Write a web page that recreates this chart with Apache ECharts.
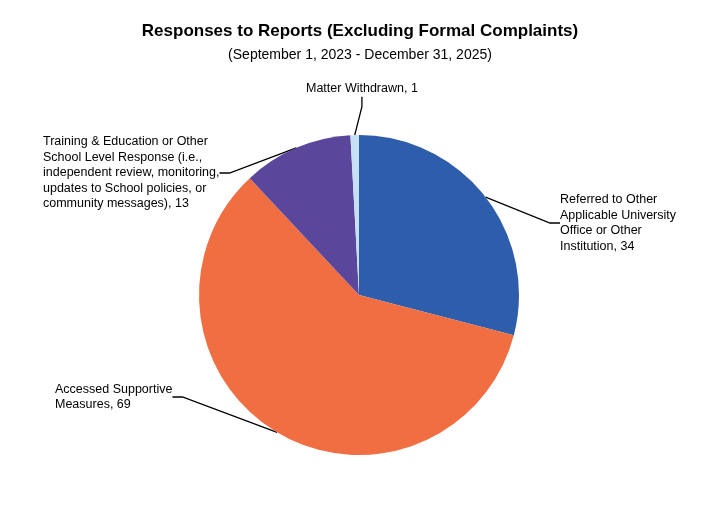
<!DOCTYPE html>
<html><head><meta charset="utf-8">
<script src="https://cdn.jsdelivr.net/npm/echarts@6/dist/echarts.min.js"></script>
<style>html,body{margin:0;padding:0;background:#fff}#c{width:720px;height:514px}</style>
</head><body><div id="c"></div>
<script>
const categories = [
  "Referred to Other\nApplicable University\nOffice or Other\nInstitution",
  "Accessed Supportive\nMeasures",
  "Training & Education or Other\nSchool Level Response (i.e.,\nindependent review, monitoring,\nupdates to School policies, or\ncommunity messages)",
  "Matter Withdrawn"
];
const values = [34, 69, 13, 1];
const colors = ["#2e5dab", "#f06e41", "#5a479c", "#c6e0f5"];
const pos = [
  {x: 560, y: 223, align: 'left'},
  {x: 55, y: 397, align: 'left'},
  {x: 43, y: 173, align: 'left'},
  {x: 306, y: 89, align: 'left'}
];
const chart = echarts.init(document.getElementById('c'));
chart.setOption({
  animation: false,
  title: {
    text: 'Responses to Reports (Excluding Formal Complaints)',
    subtext: '(September 1, 2023 - December 31, 2025)',
    left: 'center', top: 18, itemGap: 8,
    textStyle: {fontFamily: 'Liberation Sans, Arial', fontWeight: 'bold', fontSize: 17, color: '#000'},
    subtextStyle: {fontFamily: 'Liberation Sans, Arial', fontSize: 14, color: '#000'}
  },
  series: [{
    type: 'pie',
    center: [359, 295],
    radius: 160,
    startAngle: 90,
    clockwise: true,
    data: categories.map((c, i) => ({name: c, value: values[i], itemStyle: {color: colors[i]}})),
    label: {
      formatter: p => p.name + ', ' + p.value,
      fontFamily: 'Liberation Sans, Arial', fontSize: 12.5, lineHeight: 15.5, color: '#000'
    },
    labelLine: {show: true, lineStyle: {color: '#000', width: 1.3}, length: 20, length2: 10},
    labelLayout: p => ({x: pos[p.dataIndex].x, y: pos[p.dataIndex].y, align: pos[p.dataIndex].align, verticalAlign: 'middle'})
  }]
});
</script></body></html>
